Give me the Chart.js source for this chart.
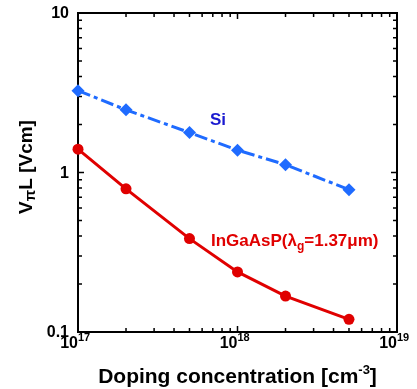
<!DOCTYPE html>
<html lang="en">
<head>
  <meta charset="UTF-8">
  <title>VpiL vs doping</title>
  <script src="https://cdn.jsdelivr.net/npm/chart.js"></script>
  <style>
    body { margin: 0; background: #fff; }
    canvas { display: block; }
  </style>
</head>
<body>
  <canvas id="chart" width="417" height="389"></canvas>
  <script>
    // doping concentration [cm^-3]
    const doping = [1e17, 2e17, 5e17, 1e18, 2e18, 5e18];
    // VpiL [Vcm]
    const siValues = [3.26, 2.47, 1.78, 1.38, 1.12, 0.78];
    const ingaasValues = [1.40, 0.79, 0.385, 0.238, 0.168, 0.120];
    const xDecades = [17, 18, 19];
    const yTicks = [0.1, 1, 10];
    const yTickLabels = ["0.1", "1", "10"];

    const FONT = '"Liberation Sans", Arial, sans-serif';
    const BLUE = "#1f6bff";
    const RED = "#e00000";

    function pts(vals) {
      return doping.map((x, i) => ({ x: x, y: vals[i] }));
    }

    // frame, inward ticks on all sides, labels
    const framePlugin = {
      id: "frame",
      beforeDatasetsDraw(chart) {
        const ctx = chart.ctx;
        const a = chart.chartArea;
        const xs = chart.scales.x, ys = chart.scales.y;
        ctx.save();
        ctx.strokeStyle = "#000";
        ctx.lineWidth = 2;
        ctx.strokeRect(a.left, a.top, a.right - a.left, a.bottom - a.top);
        ctx.lineWidth = 1.5;
        ctx.beginPath();
        // x ticks
        for (let d = 17; d <= 19; d++) {
          for (let m = 1; m <= 9; m++) {
            const v = m * Math.pow(10, d);
            if (v > 1e19) break;
            const px = xs.getPixelForValue(v);
            const len = m === 1 ? 6 : 4;
            ctx.moveTo(px, a.bottom); ctx.lineTo(px, a.bottom - len);
            ctx.moveTo(px, a.top); ctx.lineTo(px, a.top + len);
          }
        }
        // y ticks
        for (let d = -1; d <= 1; d++) {
          for (let m = 1; m <= 9; m++) {
            const v = m * Math.pow(10, d);
            if (v > 10) break;
            const py = ys.getPixelForValue(v);
            const len = m === 1 ? 6 : 4;
            ctx.moveTo(a.left, py); ctx.lineTo(a.left + len, py);
            ctx.moveTo(a.right, py); ctx.lineTo(a.right - len, py);
          }
        }
        ctx.stroke();
        ctx.restore();
      },
      afterDraw(chart) {
        const ctx = chart.ctx;
        const a = chart.chartArea;
        const xs = chart.scales.x, ys = chart.scales.y;
        ctx.save();
        ctx.fillStyle = "#000";

        // y tick labels
        ctx.font = "bold 16px " + FONT;
        ctx.textAlign = "right";
        ctx.textBaseline = "middle";
        yTicks.forEach((v, i) => {
          ctx.fillText(yTickLabels[i], a.left - 9, ys.getPixelForValue(v) + 1);
        });

        // x tick labels 10^n
        ctx.textBaseline = "alphabetic";
        xDecades.forEach(d => {
          const px = xs.getPixelForValue(Math.pow(10, d));
          ctx.font = "bold 16px " + FONT;
          ctx.textAlign = "right";
          ctx.fillText("10", px, a.bottom + 16);
          ctx.font = "bold 11px " + FONT;
          ctx.textAlign = "left";
          ctx.fillText(String(d), px, a.bottom + 9);
        });

        // x title with superscript
        const parts = [
          ["Doping concentration [cm", "bold 21px " + FONT, 0],
          ["-3", "bold 13px " + FONT, -9],
          ["]", "bold 21px " + FONT, 0]
        ];
        let total = 0;
        parts.forEach(p => { ctx.font = p[1]; total += ctx.measureText(p[0]).width; });
        let x = (a.left + a.right) / 2 - total / 2;
        ctx.textAlign = "left";
        parts.forEach(p => {
          ctx.font = p[1];
          ctx.fillText(p[0], x, 383 + p[2]);
          x += ctx.measureText(p[0]).width;
        });

        // y title, rotated, with subscript pi
        ctx.save();
        ctx.translate(32, 167);
        ctx.rotate(-Math.PI / 2);
        const yparts = [
          ["V", "bold 19px " + FONT, 0],
          ["\u03c0", "bold 15px " + FONT, 3],
          ["L [Vcm]", "bold 19px " + FONT, 0]
        ];
        total = 0;
        yparts.forEach(p => { ctx.font = p[1]; total += ctx.measureText(p[0]).width; });
        x = -total / 2;
        yparts.forEach(p => {
          ctx.font = p[1];
          ctx.fillText(p[0], x, p[2]);
          x += ctx.measureText(p[0]).width;
        });
        ctx.restore();

        // series labels
        ctx.font = "bold 17px " + FONT;
        ctx.fillStyle = "#1a1ad0";
        ctx.textAlign = "left";
        ctx.fillText("Si", 210, 125);

        ctx.fillStyle = RED;
        const lparts = [
          ["InGaAsP(\u03bb", "bold 17px " + FONT, 0],
          ["g", "bold 12px " + FONT, 4],
          ["=1.37\u03bcm)", "bold 17px " + FONT, 0]
        ];
        x = 211;
        lparts.forEach(p => {
          ctx.font = p[1];
          ctx.fillText(p[0], x, 246 + p[2]);
          x += ctx.measureText(p[0]).width;
        });
        ctx.restore();
      }
    };

    new Chart(document.getElementById("chart"), {
      type: "scatter",
      data: {
        datasets: [
          {
            label: "Si",
            data: pts(siValues),
            showLine: true,
            borderColor: BLUE,
            backgroundColor: BLUE,
            borderWidth: 3,
            borderDash: [13, 4, 4, 4],
            pointStyle: "rectRot",
            pointRadius: 6.5,
            pointBorderWidth: 0,
            clip: false
          },
          {
            label: "InGaAsP",
            data: pts(ingaasValues),
            showLine: true,
            borderColor: RED,
            backgroundColor: RED,
            borderWidth: 3,
            pointStyle: "circle",
            pointRadius: 5.5,
            pointBorderWidth: 0,
            clip: false
          }
        ]
      },
      options: {
        responsive: false,
        animation: false,
        layout: { padding: { left: 78, right: 20, top: 13, bottom: 57 } },
        plugins: { legend: { display: false }, tooltip: { enabled: false } },
        scales: {
          x: { type: "logarithmic", min: 1e17, max: 1e19, display: false },
          y: { type: "logarithmic", min: 0.1, max: 10, display: false }
        }
      },
      plugins: [framePlugin]
    });
  </script>
</body>
</html>
